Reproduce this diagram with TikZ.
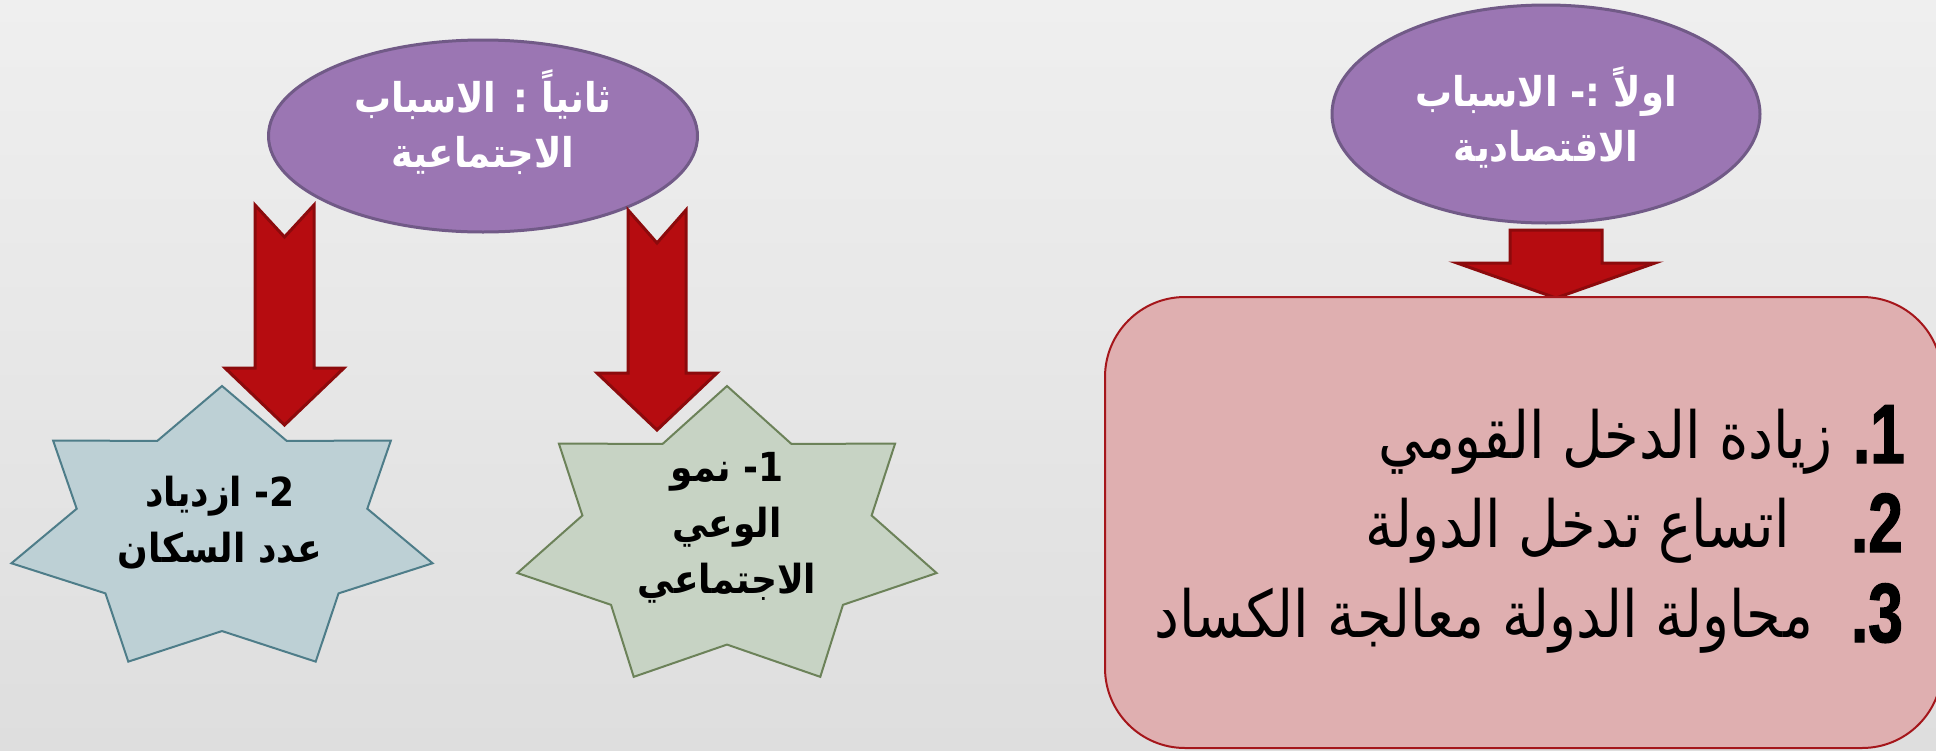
\documentclass[tikz,border=0pt]{standalone}
\usepackage{fontspec}
\usetikzlibrary{shapes.geometric}
\TeXXeTstate=1
\newfontfamily\arabicfont[Script=Arabic, FakeStretch=0.9]{DejaVu Sans}
\newfontfamily\listfont[Script=Arabic, FakeStretch=0.86]{DejaVu Sans}
\newfontfamily\numfont[FakeStretch=0.74, FakeBold=1.5]{Liberation Sans Bold}
\definecolor{bgtop}{HTML}{EFEFEF}
\definecolor{bgbottom}{HTML}{DEDEDE}
\definecolor{causefill}{HTML}{9B76B3}
\definecolor{causeline}{HTML}{715A87}
\definecolor{arrowfill}{HTML}{B60C10}
\definecolor{arrowline}{HTML}{8C0A0C}
\definecolor{boxfill}{HTML}{DFAFB0}
\definecolor{boxline}{HTML}{A5161B}
\definecolor{popfill}{HTML}{BDD0D5}
\definecolor{popline}{HTML}{4E7D89}
\definecolor{awarefill}{HTML}{C7D3C4}
\definecolor{awareline}{HTML}{6C8259}

\begin{document}
\begin{tikzpicture}[x=1pt,y=-1pt]
        \tikzstyle{cause} = [ellipse, draw=causeline, fill=causefill, line width=3pt, inner sep=0pt]
        \tikzstyle{causetext} = [text=white, align=center, font=\arabicfont\bfseries\fontsize{41}{55}\selectfont]
        \tikzstyle{startext} = [align=center, font=\arabicfont\bfseries\fontsize{40}{56}\selectfont]
        \tikzstyle{pop star} = [draw=popline, fill=popfill, line width=2pt]
        \tikzstyle{aware star} = [draw=awareline, fill=awarefill, line width=2pt]
        \tikzstyle{blockarrow} = [draw=arrowline, fill=arrowfill, line width=3pt]
        \tikzstyle{listbox} = [rectangle, rounded corners=80pt, draw=boxline, fill=boxfill, line width=2pt, minimum width=837pt, minimum height=451pt]
        \tikzstyle{listnum} = [anchor=base east, inner sep=0pt, font=\numfont\fontsize{84}{84}\selectfont]
        \tikzstyle{listtext} = [anchor=base east, inner sep=0pt, font=\listfont\fontsize{65}{65}\selectfont]

        \useasboundingbox (0,0) rectangle (1936,750);
        \shade[top color=bgtop, bottom color=bgbottom] (0,0) rectangle (1936,750);

        % the two causes
        \node[cause, minimum width=428pt, minimum height=218pt] (eco) at (1546,114) {};
        \node[cause, minimum width=429pt, minimum height=192pt] (soc) at (483,136) {};
        \node[causetext] (ecotext) at (1546,117) {\beginR اولاً :- الاسباب\endR\\\beginR الاقتصادية\endR};
        \node[causetext] (soctext) at (483,122) {\beginR ثانياً : الاسباب\endR\\\beginR الاجتماعية\endR};

        % block arrows
        \foreach \cx/\ty/\notch/\w/\hs/\hw/\tp in {284.5/205/32/29.5/368/59.5/425, 657/210/33/29/373/60/430, 1556/230/0/46/263/99/298}
            \draw[blockarrow] ({\cx-\w},\ty) -- (\cx,{\ty+\notch}) -- ({\cx+\w},\ty) -- ({\cx+\w},\hs) -- ({\cx+\hw},\hs)
                -- (\cx,\tp) -- ({\cx-\hw},\hs) -- ({\cx-\w},\hs) -- cycle;

        % stars
        \foreach \cx/\cy/\rx/\ry/\kind in {222/531/216/145/pop, 727/539/215/153/aware}
            \draw[\kind\space star] plot[samples at={0,...,13}]
                ({\cx+\rx*(1-0.31*mod(\x,2))*cos(90+\x*360/14)}, {\cy-\ry*(1-0.31*mod(\x,2))*sin(90+\x*360/14)}) -- cycle;
        \node[startext] (poptext) at (220,523) {\beginR 2- ازدياد\endR\\\beginR عدد السكان\endR};
        \node[startext] (awaretext) at (727,528) {\beginR 1- نمو\endR\\\beginR الوعي\endR\\\beginR الاجتماعي\endR};

        % list of economic causes
        \node[listbox] (list) at (1523.5,522.5) {};
        \node[listnum] (n1) at (1905,463) {\beginR 1\kern0pt.\endR};
        \node[listnum] (n2) at (1903,552) {\beginR 2\kern0pt.\endR};
        \node[listnum] (n3) at (1903,642) {\beginR 3\kern0pt.\endR};
        \node[listtext] (t1) at (1833,458) {\beginR زيادة الدخل القومي\endR};
        \node[listtext] (t2) at (1790,547) {\beginR اتساع تدخل الدولة\endR};
        \node[listtext] (t3) at (1813,637) {\beginR محاولة الدولة معالجة الكساد\endR};
\end{tikzpicture}
\end{document}
